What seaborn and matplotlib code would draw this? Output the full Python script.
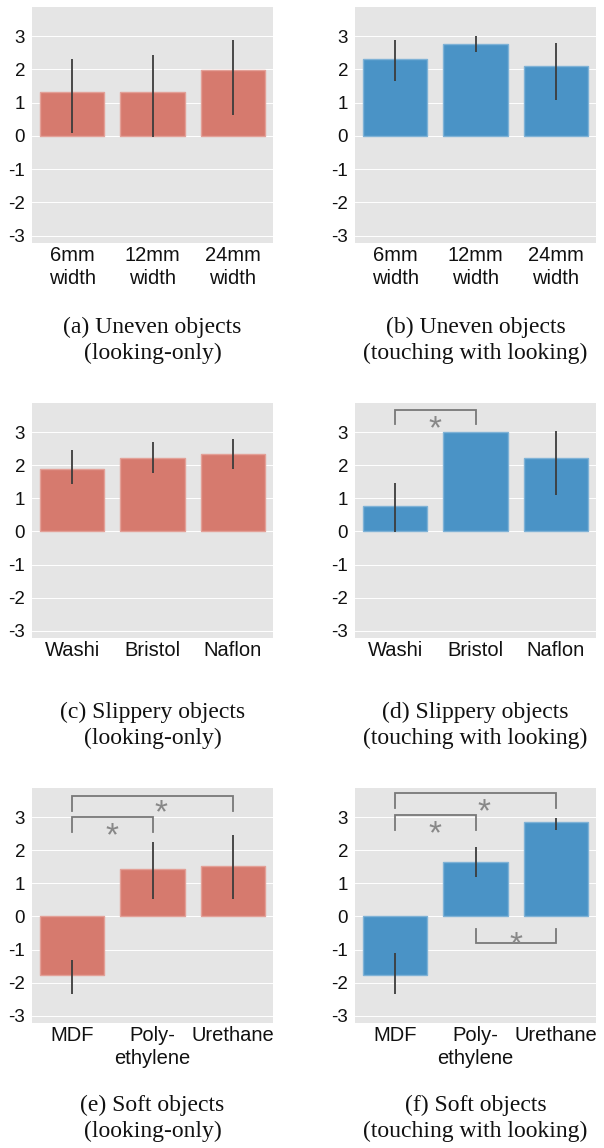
import matplotlib
matplotlib.use("Agg")
import matplotlib.pyplot as plt
import matplotlib.transforms as mtransforms
import seaborn as sns
import numpy as np

# ---------------- data ----------------
cats_uneven = ["6mm\nwidth", "12mm\nwidth", "24mm\nwidth"]
cats_slippery = ["Washi", "Bristol", "Naflon"]
cats_soft = ["MDF", "Poly-\nethylene", "Urethane"]

a_mean = [1.32, 1.31, 1.99]
a_lo = [0.08, -0.02, 0.63]
a_hi = [2.32, 2.45, 2.88]

b_mean = [2.31, 2.78, 2.10]
b_lo = [1.65, 2.54, 1.09]
b_hi = [2.90, 3.00, 2.80]

c_mean = [1.89, 2.22, 2.34]
c_lo = [1.44, 1.77, 1.88]
c_hi = [2.47, 2.70, 2.80]

d_mean = [0.77, 3.00, 2.21]
d_lo = [-0.02, 3.00, 1.10]
d_hi = [1.45, 3.00, 3.02]

e_mean = [-1.78, 1.43, 1.53]
e_lo = [-2.35, 0.53, 0.53]
e_hi = [-1.31, 2.24, 2.45]

f_mean = [-1.78, 1.65, 2.85]
f_lo = [-2.35, 1.18, 2.62]
f_hi = [-1.10, 2.10, 2.98]

# significance brackets: (i, j, bar_y, leg_end_y, star_x, star_y)
d_sig = [(0, 1, 3.68, 3.25, 0.49, 3.40)]
e_sig = [(0, 2, 3.65, 3.20, 1.10, 3.42), (0, 1, 2.99, 2.56, 0.50, 2.72)]
f_sig = [(0, 2, 3.72, 3.27, 1.10, 3.47), (0, 1, 3.07, 2.62, 0.50, 2.80),
         (1, 2, -0.81, -0.38, 1.50, -0.57)]

captions = [
    ("(a) Uneven objects", "(looking-only)"),
    ("(b) Uneven objects", "(touching with looking)"),
    ("(c) Slippery objects", "(looking-only)"),
    ("(d) Slippery objects", "(touching with looking)"),
    ("(e) Soft objects", "(looking-only)"),
    ("(f) Soft objects", "(touching with looking)"),
]

RED = "#d67a6e"
RED_EDGE = "#e3a097"
BLUE = "#4a93c6"
BLUE_EDGE = "#7fb2d6"

# ---------------- style ----------------
sns.set_style({"axes.facecolor": "#E5E5E5", "grid.color": "white",
               "axes.edgecolor": "#E5E5E5"})
plt.rcParams["font.family"] = ["Liberation Sans", "DejaVu Sans"]

W, H = 604, 1148
fig = plt.figure(figsize=(W / 100, H / 100), dpi=100)


def add_ax(x0, y0, x1, y1):
    return fig.add_axes([x0 / W, 1 - y1 / H, (x1 - x0) / W, (y1 - y0) / H])


cols = [(32, 273), (355, 596)]
rows = [(7, 243), (403, 638), (788, 1023)]
cap_y = [(327, 353), (712.7, 738), (1105.5, 1131.7)]

panels = [
    (cats_uneven, a_mean, a_lo, a_hi, RED, RED_EDGE, []),
    (cats_uneven, b_mean, b_lo, b_hi, BLUE, BLUE_EDGE, []),
    (cats_slippery, c_mean, c_lo, c_hi, RED, RED_EDGE, []),
    (cats_slippery, d_mean, d_lo, d_hi, BLUE, BLUE_EDGE, d_sig),
    (cats_soft, e_mean, e_lo, e_hi, RED, RED_EDGE, e_sig),
    (cats_soft, f_mean, f_lo, f_hi, BLUE, BLUE_EDGE, f_sig),
]

STAR_FS = 24

for k, (cats, mean, lo, hi, col, edge, sig) in enumerate(panels):
    r, c = divmod(k, 2)
    x0, x1 = cols[c]
    y0, y1 = rows[r]
    ax = add_ax(x0, y0, x1, y1)
    sns.barplot(x=cats, y=mean, color=col, saturation=1, errorbar=None,
                width=0.8, edgecolor=edge, linewidth=1.0, ax=ax, zorder=2)
    pos = np.arange(len(cats))
    ax.vlines(pos, lo, hi, color="#3c3c3c", lw=1.3, zorder=3)
    star_tr = mtransforms.offset_copy(ax.transData, fig=fig, x=0,
                                      y=-0.58 * STAR_FS, units="points")
    for (i, j, yb, yl, sx, sy) in sig:
        ax.plot([i, i, j, j], [yl, yb, yb, yl], color="#787878", lw=1.3,
                solid_joinstyle="miter", zorder=3)
        ax.text(sx, sy, "*", ha="center", va="baseline", fontsize=STAR_FS,
                color="#888888", zorder=4, transform=star_tr)
    ax.set_xlim(-0.5, 2.5)
    ax.set_ylim(-3.22, 3.88)
    ticks = list(range(-3, 4))
    ax.set_yticks(ticks)
    ax.set_yticklabels([str(t) for t in ticks])
    ax.grid(axis="y", color="white", lw=0.7)
    ax.grid(axis="x", visible=False)
    ax.set_axisbelow(True)
    ax.tick_params(axis="both", length=0, colors="#111111")
    ax.tick_params(axis="y", pad=5, labelsize=13.5)
    ax.tick_params(axis="x", pad=2, labelsize=14.5)
    for lab in ax.get_xticklabels():
        lab.set_linespacing(1.27)
    ax.set_xlabel("")
    ax.set_ylabel("")
    for s in ax.spines.values():
        s.set_visible(False)

    cx = (x0 + x1) / 2
    l1, l2 = captions[k]
    for txt, yy in ((l1, cap_y[r][0]), (l2, cap_y[r][1])):
        fig.text(cx / W, 1 - yy / H, txt, ha="center", va="center",
                 fontsize=17, family=["Liberation Serif", "DejaVu Serif"],
                 color="#111111")

fig.savefig("out.png", dpi=100)
